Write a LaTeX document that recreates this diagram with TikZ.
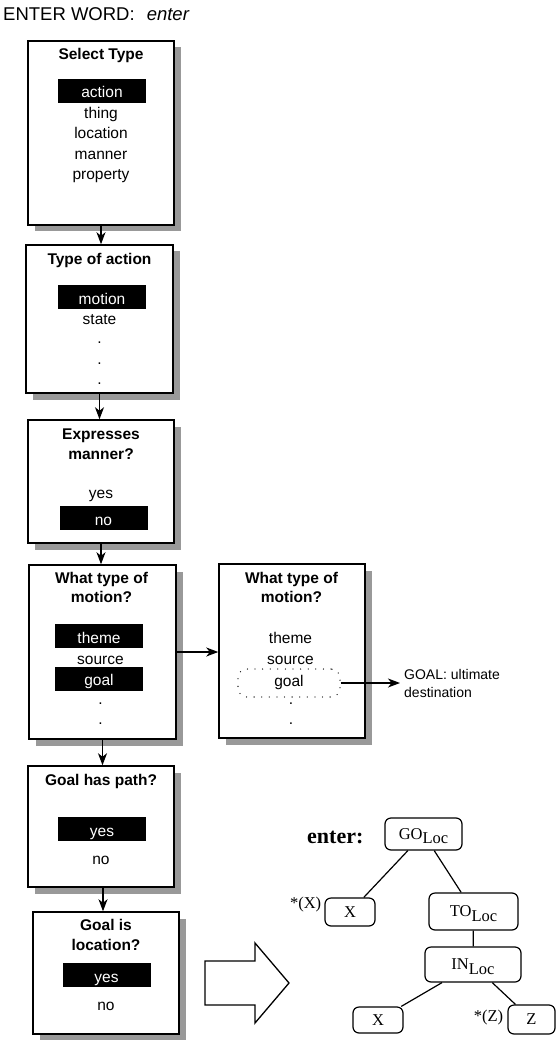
\documentclass[tikz,border=0pt]{standalone}
\usepackage{fontspec}
\setmainfont{Liberation Sans}
\newfontfamily\tms{Liberation Serif}
\usetikzlibrary{arrows.meta,shadows}

\begin{document}
\begin{tikzpicture}[x=1pt,y=-1pt,
  qbox/.style={draw, line width=1.5pt, fill=white, inner sep=0pt,
    drop shadow={shadow xshift=6.5pt, shadow yshift=-6.5pt, fill=black!40, opacity=1}},
  itm/.style={anchor=base, inner sep=0pt, font=\fontsize{15.5}{18}\selectfont},
  ttl/.style={anchor=base, inner sep=0pt, font=\fontsize{15.5}{18}\selectfont\bfseries},
  hl/.style={itm, fill=black, text=white, minimum width=88pt, text height=19pt, text depth=5pt},
  arr/.style={line width=1.2pt, -{Stealth[length=12pt,width=9pt,inset=3.5pt]}},
  tnode/.style={draw, line width=1.2pt, rounded corners=6pt, inner sep=0pt,
    font=\tms\fontsize{16.5}{19}\selectfont, text height=10.9pt, text depth=0pt},
  tlab/.style={inner sep=0pt, font=\tms\fontsize{16.5}{19}\selectfont},
  tedge/.style={line width=1.2pt},
]
\useasboundingbox (0,0) rectangle (556,1040);

% header line
\node[anchor=base west, inner sep=0pt, font=\fontsize{18.5}{21}\selectfont] (hdr) at (3,20.7)
  {ENTER WORD:\hspace{12pt}\textit{enter}};

% question boxes
\node[qbox, minimum width=146pt, minimum height=184pt] (b1) at (101,133) {};
\node[qbox, minimum width=147pt, minimum height=148pt] (b2) at (99.5,319) {};
\node[qbox, minimum width=146pt, minimum height=123pt] (b3) at (101,481.5) {};
\node[qbox, minimum width=147pt, minimum height=174pt] (b4) at (102.5,652) {};
\node[qbox, minimum width=146pt, minimum height=174pt] (b5) at (292,651) {};
\node[qbox, minimum width=146pt, minimum height=121pt] (b6) at (101,826.5) {};
\node[qbox, minimum width=146pt, minimum height=122pt] (b7) at (106,973) {};

% box 1
\node[ttl] (t1) at (101,59.3) {Select Type};
\node[hl]  (t1a) at (102,98) {action};
\node[itm] (t1b) at (101,118.5) {thing};
\node[itm] (t1c) at (101,139) {location};
\node[itm] (t1d) at (101,159.5) {manner};
\node[itm] (t1e) at (101,180) {property};

% box 2
\node[ttl] (t2) at (99.5,264.3) {Type of action};
\node[hl]  (t2a) at (102,304.3) {motion};
\node[itm] (t2b) at (99.5,324.3) {state};
\node[itm] (t2c) at (99.5,343.5) {.};
\node[itm] (t2d) at (99.5,364) {.};
\node[itm] (t2e) at (99.5,384.5) {.};

% box 3
\node[ttl] (t3) at (101,439.3) {Expresses};
\node[ttl] (t3x) at (101,459) {manner?};
\node[itm] (t3a) at (101,498.3) {yes};
\node[hl]  (t3b) at (103.5,525) {no};

% box 4
\node[ttl] (t4) at (101.5,583.5) {What type of};
\node[ttl] (t4x) at (101.5,602.7) {motion?};
\node[hl]  (t4a) at (99,643) {theme};
\node[itm] (t4b) at (100.5,664) {source};
\node[hl]  (t4c) at (99,685.5) {goal};
\node[itm] (t4d) at (100.5,704) {.};
\node[itm] (t4e) at (100.5,724) {.};

% box 5
\node[ttl] (t5) at (291.5,583.5) {What type of};
\node[ttl] (t5x) at (291.5,602.7) {motion?};
\node[itm] (t5a) at (290.5,643.3) {theme};
\node[itm] (t5b) at (290.5,664) {source};
\node[itm] (t5c) at (289,686.5) {goal};
\node[itm] (t5d) at (291,704) {.};
\node[itm] (t5e) at (291,724) {.};
\node[draw, line width=1.3pt, line cap=round, dash pattern=on 0pt off 7.6pt,
      rounded corners=9pt, minimum width=102pt, minimum height=28pt, inner sep=0pt] (gl) at (289,683) {};

% gloss for the goal role
\node[anchor=base west, inner sep=0pt, font=\fontsize{14}{17}\selectfont] (g1) at (404,679.3) {GOAL: ultimate};
\node[anchor=base west, inner sep=0pt, font=\fontsize{14}{17}\selectfont] (g2) at (404,697.7) {destination};

% box 6
\node[ttl] (t6) at (101,785.7) {Goal has path?};
\node[hl]  (t6a) at (102,836.3) {yes};
\node[itm] (t6b) at (101,864.3) {no};

% box 7
\node[ttl] (t7) at (106,930.7) {Goal is};
\node[ttl] (t7x) at (106,950) {location?};
\node[hl]  (t7a) at (106.5,982) {yes};
\node[itm] (t7b) at (106,1010.7) {no};

% flow arrows
\draw[arr] (b1.south) -- (b1.south |- b2.north);
\draw[arr] (b2.south) -- (b2.south |- b3.north);
\draw[arr] (b3.south) -- (b3.south |- b4.north);
\draw[arr] (b4.east) -- (b4.east -| b5.west);
\draw[arr] (b4.south) -- (b4.south |- b6.north);
\draw[arr] ([xshift=2pt]b6.south) -- ([xshift=2pt]b6.south |- b7.north);
\draw[arr, shorten >=4pt] (gl.east) -- (gl.east -| g1.west);

% hollow block arrow
\draw[line width=1.3pt, line join=miter]
  (205,961) -- (255,961) -- (255,943) -- (289,983) -- (255,1023) -- (255,1005) -- (205,1005) -- cycle;

% lexical structure tree
\node[anchor=base west, inner sep=0pt, font=\tms\fontsize{22}{25}\selectfont\bfseries] (ent) at (307,843.3) {enter:};
\node[tnode, minimum width=77pt, minimum height=32pt] (go) at (423.5,834) {GO\raisebox{-4.2pt}{Loc}};
\node[tnode, minimum width=50pt, minimum height=28pt] (xl) at (350,912) {X};
\node[tnode, minimum width=89pt, minimum height=37pt] (to) at (473.5,911.5) {TO\raisebox{-4.2pt}{Loc}};
\node[tnode, minimum width=96pt, minimum height=35pt] (in) at (473,964.5) {IN\raisebox{-4.2pt}{Loc}};
\node[tnode, minimum width=50pt, minimum height=26pt] (xb) at (378,1020) {X};
\node[tnode, minimum width=47pt, minimum height=29pt] (zb) at (531.5,1019.5) {Z};
\node[tlab, anchor=east] (sx) at ([xshift=-3pt,yshift=7pt]xl.west) {*(X)};
\node[tlab, anchor=east] (sz) at ([xshift=-4pt,yshift=1.5pt]zb.west) {*(Z)};

\draw[tedge] (go) -- (xl);
\draw[tedge] (go) -- (to);
\draw[tedge] (to) -- (in);
\draw[tedge] (in) -- (xb);
\draw[tedge] (in) -- (zb);
\end{tikzpicture}
\end{document}
